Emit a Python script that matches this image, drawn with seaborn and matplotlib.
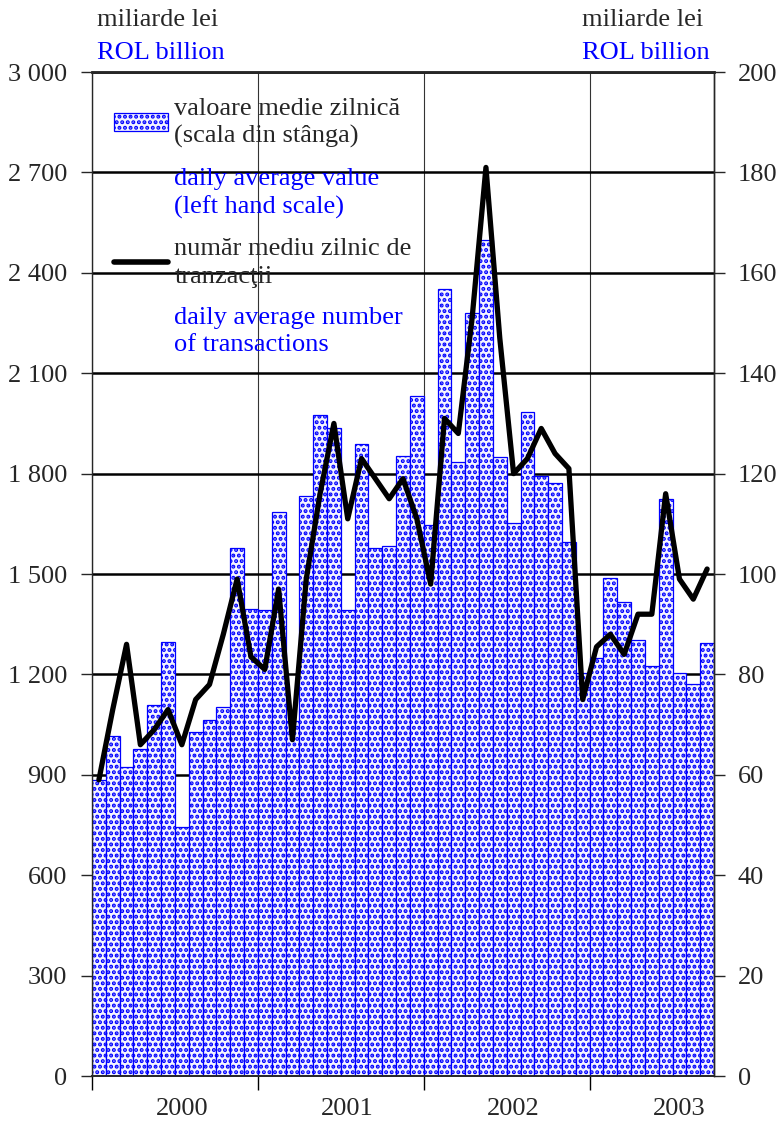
import numpy as np
import pandas as pd
import matplotlib.pyplot as plt
import matplotlib.ticker as mticker
from matplotlib.patches import Patch
from matplotlib.lines import Line2D
import seaborn as sns

# Data: monthly, Jan 2000 - Sep 2003
years = [2000, 2001, 2002, 2003]
months_per_year = [12, 12, 12, 9]
months = [f"{y}-{m:02d}" for y, n in zip(years, months_per_year) for m in range(1, n + 1)]

# daily average value (ROL billion, left scale)
value_bn = [886, 1017, 922, 977, 1109, 1296, 745, 1027, 1064, 1102, 1577, 1397,
            1392, 1684, 1060, 1733, 1975, 1935, 1394, 1888, 1577, 1584, 1853, 2032,
            1646, 2351, 1836, 2281, 2498, 1849, 1654, 1983, 1794, 1771, 1595, 1203,
            1248, 1489, 1415, 1303, 1226, 1723, 1205, 1171, 1293]

# daily average number of transactions (right scale)
transactions = [59, 73, 86, 66, 69, 73, 66, 75, 78, 88, 99, 83.5,
                81, 97, 67, 99, 116, 130, 111, 123, 119, 115, 119, 111,
                98, 131, 128, 151, 181, 147, 120, 123, 129, 124, 121, 75,
                85.5, 88, 84, 92, 92, 116, 99, 95, 101]

df = pd.DataFrame({"month": months, "value": value_bn, "trans": transactions})
df["pos"] = np.arange(len(df))

# Style
sns.set_style("ticks")
plt.rcParams["font.family"] = ["Liberation Serif", "DejaVu Serif"]
plt.rcParams["hatch.linewidth"] = 2.0

BLUE = "#0000ff"
bar_face = "#f4f4ff"
bar_hatch = "..."
FS = 19

fig = plt.figure(figsize=(7.79, 11.31), dpi=100)
ax = fig.add_axes([0.1181, 0.0486, 0.7985, 0.8877])

sns.barplot(data=df, x="month", y="value", ax=ax, width=1.0, color=bar_face,
            saturation=1, edgecolor=BLUE, linewidth=0.9, hatch=bar_hatch,
            errorbar=None, zorder=2)

ax.set_xlim(-0.5, len(months) - 0.5)
ax.set_ylim(0, 3000)
ax.set_yticks(np.arange(0, 3001, 300))
ax.yaxis.set_major_formatter(mticker.FuncFormatter(lambda v, p: f"{int(v):,}".replace(",", " ")))

# year boundaries as major ticks, year labels as minor ticks
ax.set_xticks([-0.5, 11.5, 23.5, 35.5])
ax.set_xticklabels([])
ax.set_xticks([6, 18, 30, 42], minor=True)
ax.set_xticklabels([str(y) for y in years], minor=True)
ax.set_xlabel("")
ax.set_ylabel("")

ax.tick_params(axis="x", which="major", direction="out", length=10, width=1, color="black")
ax.tick_params(axis="x", which="minor", length=0, pad=16, labelsize=FS)
ax.tick_params(axis="y", direction="out", length=8, width=1, pad=10, labelsize=FS)

ax.set_axisbelow(True)
ax.yaxis.grid(True, color="black", lw=1.8)
ax.xaxis.grid(True, which="major", color="#333333", lw=0.8)

for side in ["left", "right"]:
    ax.spines[side].set_linewidth(1.0)
ax.spines["bottom"].set_linewidth(1.4)
ax.spines["top"].set_linewidth(1.8)

# right axis: number of transactions
ax2 = ax.twinx()
sns.lineplot(data=df, x="pos", y="trans", ax=ax2, color="black", lw=3.8,
             solid_capstyle="round", solid_joinstyle="round")
ax2.set_ylim(0, 200)
ax2.set_yticks(np.arange(0, 201, 20))
ax2.set_ylabel("")
ax2.set_xlabel("")
ax2.grid(False)
ax2.tick_params(axis="y", direction="out", length=8, width=1, pad=9, labelsize=FS)
ax2.spines["right"].set_linewidth(1.0)
ax2.spines["top"].set_linewidth(1.8)
ax2.spines["left"].set_visible(False)
ax2.spines["bottom"].set_visible(False)

# legend
handles = [Patch(facecolor=bar_face, edgecolor=BLUE, hatch=bar_hatch, lw=0.9),
           Patch(facecolor="none", edgecolor="none"),
           Line2D([], [], color="black", lw=4),
           Patch(facecolor="none", edgecolor="none")]
labels = ["valoare medie zilnică\n(scala din stânga)",
          "daily average value\n(left hand scale)",
          "număr mediu zilnic de\ntranzacţii",
          "daily average number\nof transactions"]
leg = ax2.legend(handles, labels, loc="upper left", bbox_to_anchor=(0.018, 0.985),
                 frameon=False, fontsize=FS, handlelength=2.05, handletextpad=0.25,
                 labelspacing=0.75, borderaxespad=0)
for i, t in enumerate(leg.get_texts()):
    t.set_linespacing(1.3)
    if i in (1, 3):
        t.set_color(BLUE)

# unit captions
fig.text(97 / 779, 1 - 20 / 1131, "miliarde lei", fontsize=FS, ha="left", va="center")
fig.text(97 / 779, 1 - 53 / 1131, "ROL billion", fontsize=FS, ha="left", va="center", color=BLUE)
fig.text(582 / 779, 1 - 20 / 1131, "miliarde lei", fontsize=FS, ha="left", va="center")
fig.text(582 / 779, 1 - 53 / 1131, "ROL billion", fontsize=FS, ha="left", va="center", color=BLUE)

fig.savefig("out.png", dpi=100)
